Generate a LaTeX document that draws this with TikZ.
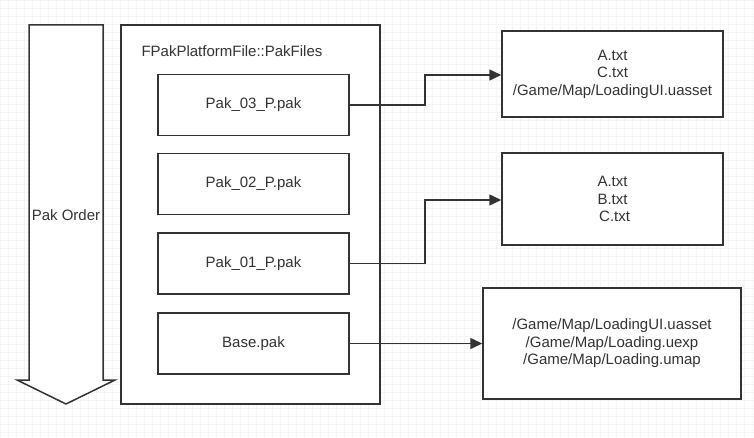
\documentclass[tikz,border=0pt]{standalone}
\usepackage{fontspec}
\setmainfont{Liberation Sans}
\usetikzlibrary{arrows.meta}
\definecolor{ink}{HTML}{333333}
\definecolor{gridc}{HTML}{F5F5F7}
\begin{document}
\begin{tikzpicture}[x=1pt,y=-1pt,
  every node/.style={font=\fontsize{15}{17.5}\selectfont, text=ink},
  frame/.style={draw=ink, line width=1.5pt, fill=white},
  pakbox/.style={frame, minimum width=191pt, minimum height=61pt, inner sep=0pt},
  listbox/.style={frame, align=center, inner sep=0pt},
  link/.style={draw=ink, line width=1.5pt, -{Triangle[length=12pt,width=11pt]}}]
  % page and faint background grid
  \useasboundingbox (0,0) rectangle (754,438);
  \fill[white] (0,0) rectangle (754,438);
  \draw[gridc, line width=0.5pt, step=8pt] (0,0) grid (754,438);

  % load-order arrow
  \draw[ink, line width=1.5pt, fill=white, line join=miter]
    (29,25) -- (103,25) -- (103,380) -- (115,380) -- (66,404) -- (17,380) -- (29,380) -- cycle;
  \node (order) at (66,215) {Pak Order};

  % pak file container
  \node[frame, minimum width=259pt, minimum height=379pt, inner sep=0pt] (files) at (250.5,214.5) {};
  \node[anchor=west] (title) at (138,51) {FPakPlatformFile::PakFiles};

  \node[pakbox] (p3) at (253.5,105) {Pak\_03\_P.pak};
  \node[pakbox] (p2) at (253.5,184) {Pak\_02\_P.pak};
  \node[pakbox] (p1) at (253.5,263.5) {Pak\_01\_P.pak};
  \node[pakbox] (base) at (253.5,343.5) {Base.pak};

  % mounted contents
  \node[listbox, minimum width=221pt, minimum height=86pt] (c3) at (612.5,74)
    {A.txt\\C.txt\\/Game/Map/LoadingUI.uasset};
  \node[listbox, minimum width=221pt, minimum height=92pt] (c1) at (612.5,199)
    {A.txt\\B.txt\\\hphantom{.}C.txt};
  \node[listbox, minimum width=258pt, minimum height=111pt] (cb) at (612,343.5)
    {/Game/Map/LoadingUI.uasset\\/Game/Map/Loading.uexp\\/Game/Map/Loading.umap};

  % connectors
  \coordinate (k3) at (425,105);
  \coordinate (k1) at (425,263.5);
  \draw[link] (p3.east) -- (k3) |- (c3.west |- 0,75);
  \draw[link] (p1.east) -- (k1) |- (c1.west |- 0,200);
  \draw[link] (base.east) -- (cb.west |- base.east);
\end{tikzpicture}
\end{document}
